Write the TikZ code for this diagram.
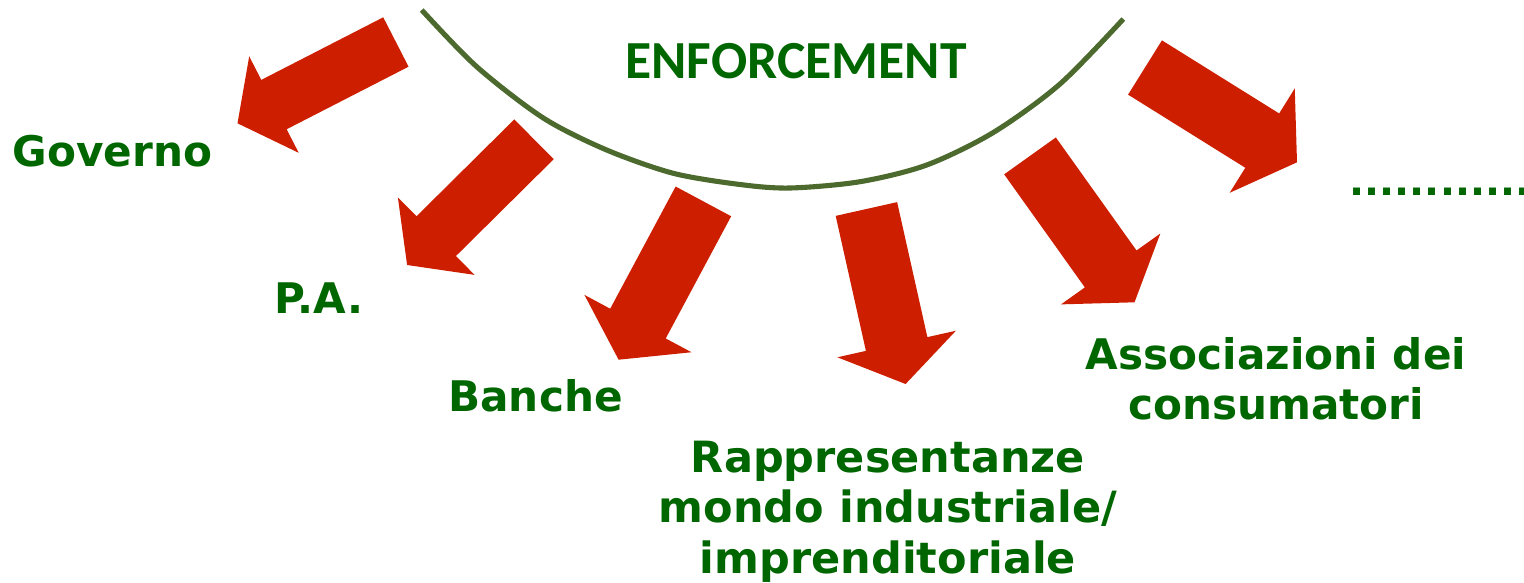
\documentclass[tikz,border=0pt]{standalone}
\usepackage{fontspec}
\setmainfont{DejaVu Sans}
\newfontfamily\titlefont{Carlito}
\usetikzlibrary{calc}

\definecolor{labelgreen}{RGB}{0,102,0}
\definecolor{arcgreen}{RGB}{76,105,46}
\definecolor{arrowred}{RGB}{205,30,0}

\tikzset{
  lbl/.style={text=labelgreen, font=\fontsize{24}{28.5}\selectfont\bfseries, align=center, anchor=base, inner sep=0pt},
}

% #1 tail, #2 tip, #3 half shaft width, #4 half head width
\newcommand{\blockarrow}[4]{%
  \coordinate (#1b) at ($(#2)!0.82cm!(#1)$);
  \fill[arrowred] ($(#1)!#3!90:(#2)$) -- ($(#1b)!#3!90:(#2)$) -- ($(#1b)!#4!90:(#2)$) -- (#2)
    -- ($(#1b)!#4!-90:(#2)$) -- ($(#1b)!#3!-90:(#2)$) -- ($(#1)!#3!-90:(#2)$) -- cycle;
}

\begin{document}
\begin{tikzpicture}[x=0.02cm,y=-0.02cm]
            \useasboundingbox (0,0) rectangle (1524,582);
            \draw[arcgreen, line width=2.9pt] plot[smooth] coordinates {(421.7,10) (476.7,66.7) (543.3,118) (606.7,150) (673.3,173.3) (740,184.5) (790,188) (860,181.7) (926.7,165) (993.3,132.5) (1060,84) (1123.3,19)};
            \node (enf) at (796,78.3) [lbl, font=\fontsize{30.5}{36}\selectfont\titlefont\bfseries] {ENFORCEMENT};
            \node (gov) at (112.5,166) [lbl] {Governo};
            \node (pa) at (319,313) [lbl] {P.A.};
            \node (ban) at (535.5,411) [lbl] {Banche};
            \node (rap) at (888,573) [lbl, font=\fontsize{24.5}{28.7}\selectfont\bfseries] {Rappresentanze\\mondo industriale/\\imprenditoriale};
            \node (ass) at (1276,419.3) [lbl] {Associazioni dei\\consumatori};
            \node (etc) at (1349.5,195) [lbl, anchor=base west, font=\fontsize{22.5}{27}\selectfont\bfseries] {............};
            \coordinate (t1) at (395.9,42);   \coordinate (h1) at (237.5,123.3);
            \coordinate (t2) at (534,139.3);  \coordinate (h2) at (407.1,265);
            \coordinate (t3) at (703.4,201.4); \coordinate (h3) at (618.6,359.7);
            \coordinate (t4) at (866.4,209);  \coordinate (h4) at (905.6,384);
            \coordinate (t5) at (1030,155.9); \coordinate (h5) at (1134.5,302.3);
            \coordinate (t6) at (1145,67.5);  \coordinate (h6) at (1297,162.3);
            \blockarrow{t1}{h1}{0.555cm}{1.085cm}
            \blockarrow{t2}{h2}{0.56cm}{1.09cm}
            \blockarrow{t3}{h3}{0.63cm}{1.215cm}
            \blockarrow{t4}{h4}{0.63cm}{1.215cm}
            \blockarrow{t5}{h5}{0.635cm}{1.22cm}
            \blockarrow{t6}{h6}{0.64cm}{1.23cm}
        \end{tikzpicture}
\end{document}
